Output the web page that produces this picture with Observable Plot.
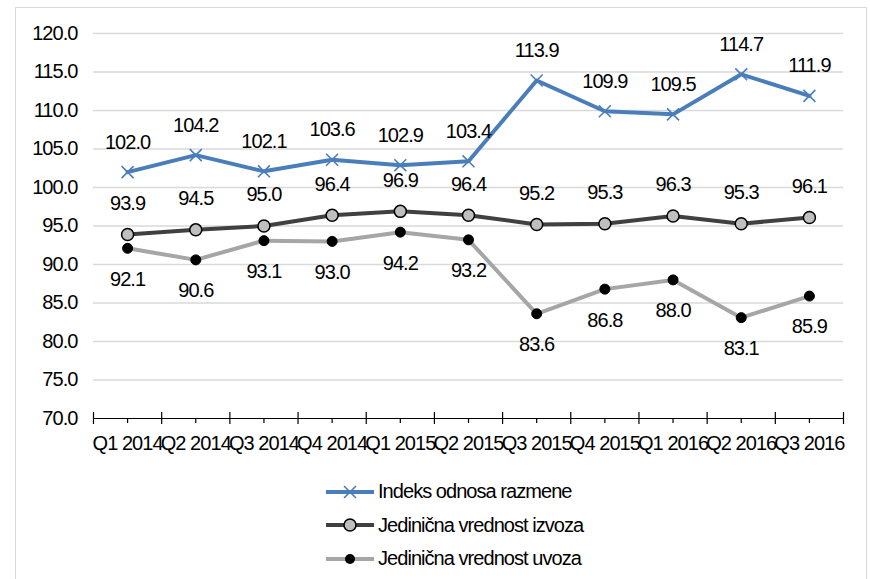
<!DOCTYPE html>
<html><head><meta charset="utf-8">
<script src="https://cdn.jsdelivr.net/npm/d3@7"></script>
<script src="https://cdn.jsdelivr.net/npm/@observablehq/plot@0.6"></script>
<style>
html,body{margin:0;padding:0;overflow:hidden;background:#fff;width:870px;height:579px}
#frame{position:absolute;left:15px;top:7px;width:852px;height:640px;border:1px solid #d9d9d9;box-sizing:border-box}
#chart{position:absolute;left:0;top:0}
#chart svg text{letter-spacing:-0.95px}
#legend{position:absolute;left:326px;top:475px;font-family:"Liberation Sans",Arial,sans-serif;font-size:20px;letter-spacing:-0.95px;color:#000}
.row{height:33.5px;display:flex;align-items:center;white-space:nowrap}
.row svg{margin-right:4px}
</style></head><body>
<div id="frame"></div>
<div id="chart"></div>
<div id="legend"></div>
<script>
const categories = ["Q1 2014","Q2 2014","Q3 2014","Q4 2014","Q1 2015","Q2 2015","Q3 2015","Q4 2015","Q1 2016","Q2 2016","Q3 2016"];
const indeks = [102.0,104.2,102.1,103.6,102.9,103.4,113.9,109.9,109.5,114.7,111.9];
const izvoz  = [93.9,94.5,95.0,96.4,96.9,96.4,95.2,95.3,96.3,95.3,96.1];
const uvoz   = [92.1,90.6,93.1,93.0,94.2,93.2,83.6,86.8,88.0,83.1,85.9];
const yTicks = [70,75,80,85,90,95,100,105,110,115,120];
const seriesNames = ["Indeks odnosa razmene","Jedinična vrednost izvoza","Jedinična vrednost uvoza"];

const BLUE = "#4a7ebb", DARK = "#404040", LIGHT = "#a6a6a6";
const rows = arr => arr.map((v,i)=>({x:i+0.5, v, c:categories[i]}));
const rI = rows(indeks), rE = rows(izvoz), rU = rows(uvoz);
const bounds = d3.range(categories.length+1);
const centers = categories.map((c,i)=>i+0.5);

const plot = Plot.plot({
  width:870, height:460,
  marginLeft:93, marginRight:27, marginTop:33, marginBottom:42,
  x:{type:"linear", domain:[0,categories.length]},
  y:{domain:[70,120]},
  style:{fontFamily:"'Liberation Sans', Arial, sans-serif", fontSize:"20px", color:"#000", background:"transparent", overflow:"visible"},
  marks:[
    Plot.ruleY(yTicks.filter(t=>t>70), {stroke:"#d9d9d9", strokeWidth:1.3}),
    Plot.axisY({ticks:yTicks, tickFormat:d=>d.toFixed(1), tickSize:0, tickPadding:16, label:null, fontSize:20}),
    Plot.ruleY([70], {stroke:"#000", strokeWidth:1.2}),
    Plot.ruleX(bounds, {x:d=>d, y1:70, y2:70, insetTop:-6, insetBottom:-6, stroke:"#000", strokeWidth:1.2}),
    Plot.ruleX(centers, {x:d=>d, y1:70, y2:70, insetTop:0, insetBottom:-5, stroke:"#000", strokeWidth:1.2}),
    Plot.axisX({ticks:centers, tickFormat:d=>categories[Math.floor(d)], tickSize:0, tickPadding:17, label:null, fontSize:20}),
    Plot.line(rI, {x:"x", y:"v", stroke:BLUE, strokeWidth:4}),
    Plot.dot(rI, {x:"x", y:"v", symbol:"times", r:5.5, stroke:BLUE, strokeWidth:1.6}),
    Plot.line(rE, {x:"x", y:"v", stroke:DARK, strokeWidth:4}),
    Plot.dot(rE, {x:"x", y:"v", r:6, fill:"#bfbfbf", stroke:"#000", strokeWidth:1.5}),
    Plot.line(rU, {x:"x", y:"v", stroke:LIGHT, strokeWidth:4}),
    Plot.dot(rU, {x:"x", y:"v", r:5, fill:"#000", stroke:"#000", strokeWidth:1}),
    Plot.text(rI, {x:"x", y:"v", text:d=>d.v.toFixed(1), dy:-30, fontSize:20}),
    Plot.text(rE, {x:"x", y:"v", text:d=>d.v.toFixed(1), dy:-31, fontSize:20}),
    Plot.text(rU, {x:"x", y:"v", text:d=>d.v.toFixed(1), dy:31, fontSize:20})
  ]
});
document.getElementById("chart").appendChild(plot);

const swatches = [
  `<line x1="0" y1="10" x2="48" y2="10" stroke="${BLUE}" stroke-width="4"/><path d="M18,4L30,16M30,4L18,16" stroke="${BLUE}" stroke-width="1.6"/>`,
  `<line x1="0" y1="10" x2="48" y2="10" stroke="${DARK}" stroke-width="4"/><circle cx="24" cy="10" r="6" fill="#bfbfbf" stroke="#000" stroke-width="1.5"/>`,
  `<line x1="0" y1="10" x2="48" y2="10" stroke="${LIGHT}" stroke-width="4"/><circle cx="24" cy="10" r="5" fill="#000"/>`
];
const leg = document.getElementById("legend");
seriesNames.forEach((n,i)=>{
  const r = document.createElement("div");
  r.className = "row";
  r.innerHTML = `<svg width="48" height="20">${swatches[i]}</svg><span>${n}</span>`;
  leg.appendChild(r);
});
</script>
</body></html>
